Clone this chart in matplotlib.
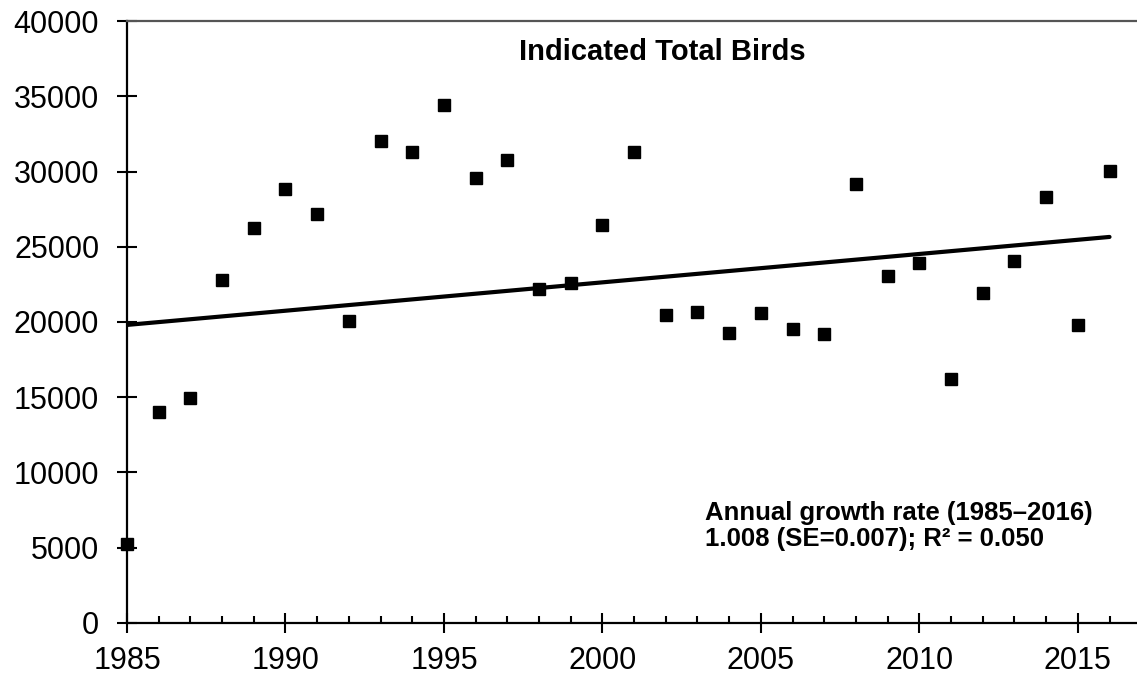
import matplotlib
matplotlib.use('Agg')
import matplotlib.pyplot as plt
from matplotlib.ticker import MultipleLocator

# values
years = list(range(1985, 2017))
birds = [5230, 14030, 14920, 22770, 26270, 28860, 27180, 20080, 32030, 31320,
         34430, 29550, 30790, 22170, 22570, 26430, 31280, 20440, 20660, 19270,
         20600, 19510, 19220, 29200, 23080, 23940, 16190, 21950, 24080, 28310,
         19780, 30020]

# fitted trend line, end points as drawn
trend_years = [1985, 2016]
trend_values = [19800, 25650]

title = 'Indicated Total Birds'
note = 'Annual growth rate (1985\u20132016)\n1.008 (SE=0.007); R\u00b2 = 0.050'

plt.rcParams['font.family'] = ['Liberation Sans', 'DejaVu Sans']

fig = plt.figure(figsize=(11.37, 6.79), dpi=100)
ax = fig.add_axes([0.1117, 0.0829, 0.892, 0.886])

ax.plot(trend_years, trend_values, color='black', lw=3, solid_capstyle='round')
ax.plot(years, birds, 's', color='black', markersize=9.3, clip_on=False)

ax.set_xlim(1985, 2017)
ax.set_ylim(0, 40000)
ax.xaxis.set_major_locator(MultipleLocator(5))
ax.xaxis.set_minor_locator(MultipleLocator(1))
ax.yaxis.set_major_locator(MultipleLocator(5000))

ax.tick_params(axis='both', which='major', direction='inout', length=14, width=1.5,
               labelsize=22)
ax.tick_params(axis='y', which='major', pad=13)
ax.tick_params(axis='x', which='major', pad=10)
ax.tick_params(axis='x', which='minor', direction='in', length=5, width=1.5)

for s in ['left', 'bottom']:
    ax.spines[s].set_linewidth(1.6)
ax.spines['top'].set_color('#555555')
ax.spines['top'].set_linewidth(1.6)
ax.spines['right'].set_visible(False)

ax.text(0.5276, 0.948, title, transform=ax.transAxes, ha='center', va='center',
        fontsize=21, fontweight='bold')
ax.text(0.570, 0.202, note, transform=ax.transAxes, ha='left', va='top',
        fontsize=18.5, fontweight='bold', linespacing=1.1)

plt.savefig('out.png', dpi=100)
plt.close()
